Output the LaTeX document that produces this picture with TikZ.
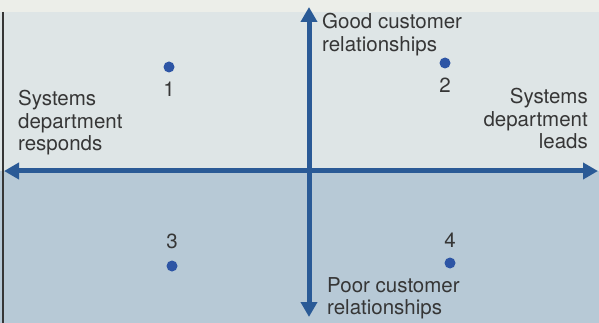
\documentclass[tikz,border=0pt]{standalone}
\usepackage{fontspec}
\setmainfont{TeX Gyre Heros}
\usetikzlibrary{positioning,arrows.meta}

\definecolor{paper}{HTML}{ECEEE9}
\definecolor{upperfill}{HTML}{DEE5E6}
\definecolor{lowerfill}{HTML}{B7C9D6}
\definecolor{axisblue}{HTML}{2A5A96}
\definecolor{dotblue}{HTML}{2D55A5}
\definecolor{inkgray}{HTML}{363636}

\begin{document}
\begin{tikzpicture}[x=1pt,y=-1pt,node distance=22.5pt,on grid]

  \tikzset{axis/.style={draw=axisblue,line width=5pt,
      {Triangle[length=15pt,width=16pt]}-{Triangle[length=15pt,width=16pt]}}}
  \tikzset{dot/.style={circle,fill=dotblue,inner sep=0pt,minimum size=11pt}}
  \tikzset{num/.style={text=inkgray,inner sep=0pt,font=\fontsize{20.5}{23}\selectfont}}
  \tikzset{caption/.style={text=inkgray,inner sep=0pt,font=\fontsize{20.5}{22.5}\selectfont}}

  \useasboundingbox (0,0) rectangle (599,323);

  % background halves
  \fill[paper] (0,0) rectangle (599,12);
  \fill[upperfill] (0,12) rectangle (599,171);
  \fill[lowerfill] (0,171) rectangle (599,323);
  \draw[inkgray,line width=1.5pt] (3,12) -- (3,323);

  % axes
  \coordinate (west) at (4,171);
  \coordinate (east) at (598,171);
  \coordinate (north) at (309,7);
  \coordinate (south) at (309,317);
  \draw[axis] (west) -- (east);
  \draw[axis] (north) -- (south);

  % axis captions
  \node[caption,anchor=north west,align=left] (responds) at (18,90) {Systems\\department\\responds};
  \node[caption,anchor=north east,align=right] (leads) at (588,88) {Systems\\department\\leads};
  \node[caption,anchor=north west,align=left] (good) at (322,13) {Good customer\\relationships};
  \node[caption,anchor=north west,align=left] (poor) at (327,277) {Poor customer\\relationships};

  % quadrant points
  \node[dot] (p1) at (169,67) {};
  \node[dot] (p2) at (445,63) {};
  \node[dot] (p3) at (172,266) {};
  \node[dot] (p4) at (450,263) {};
  \node[num] (n1) [below = of p1] {1};
  \node[num] (n2) [below = of p2] {2};
  \node[num] (n3) [above = 25pt of p3] {3};
  \node[num] (n4) [above = of p4] {4};

\end{tikzpicture}
\end{document}
